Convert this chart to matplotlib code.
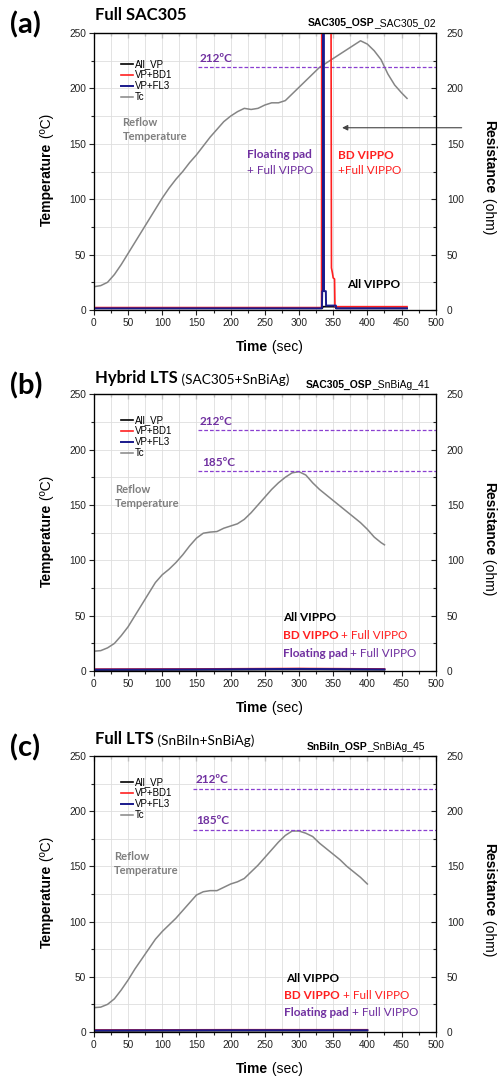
import matplotlib
matplotlib.use("Agg")
import matplotlib.pyplot as plt

# ---- data -------------------------------------------------------------
# (a) Full SAC305 : reflow temperature (left axis) and resistance (right axis)
a_t_tc = [0, 10, 20, 30, 40, 50, 60, 70, 80, 90, 100, 110, 120, 130, 140, 150, 160,
          170, 180, 190, 200, 210, 220, 230, 240, 250, 260, 270, 280, 290, 300, 310,
          320, 330, 340, 350, 360, 370, 380, 390, 400, 410, 420, 430, 440, 450, 458]
a_tc = [21, 22, 25, 32, 41, 51, 61, 71, 81, 91, 101, 110, 118, 125, 133, 140, 148,
        156, 163, 170, 175, 179, 182, 181, 182, 185, 187, 187, 189, 195, 201, 207,
        213, 219, 223, 227, 231, 235, 239, 243, 240, 234, 226, 213, 203, 196, 191]
a_t_all = [0, 334, 335, 353, 354, 458]
a_all = [1.5, 1.5, 3, 3, 1.5, 1.5]
a_t_bd1 = [0, 333, 333.4, 346.5, 347.5, 349, 350, 352, 352.6, 458]
a_bd1 = [2.2, 2.2, 400, 400, 38, 33, 29, 28, 3, 3]
a_t_fl3 = [0, 333.5, 334, 335, 335.3, 336.3, 336.6, 339.3, 339.6, 354, 354.4, 458]
a_fl3 = [1.5, 1.5, 17, 17, 400, 400, 17, 17, 4, 4, 1.5, 1.5]

# (b) Hybrid LTS
b_t_tc = [0, 10, 20, 30, 40, 50, 60, 70, 80, 90, 100, 110, 120, 130, 140, 150, 160,
          170, 180, 190, 200, 210, 220, 230, 240, 250, 260, 270, 280, 290, 300, 310,
          320, 330, 340, 350, 360, 370, 380, 390, 400, 410, 420, 425]
b_tc = [18, 18.5, 21, 25, 32, 40, 50, 60, 70, 80, 87, 92, 98, 105, 113, 120, 124.5,
        125.5, 126, 129, 131, 133, 137, 143, 150, 157, 164, 170, 175, 179, 180, 177,
        170, 164, 159, 154, 149, 144, 139, 134, 128, 121, 116, 114]
b_t_res = [0, 150, 300, 425]
b_all = [1.0, 1.2, 1.5, 1.3]
b_bd1 = [1.8, 2.0, 2.4, 2.0]
b_fl3 = [1.4, 1.6, 2.0, 1.6]

# (c) Full LTS
c_t_tc = [0, 10, 20, 30, 40, 50, 60, 70, 80, 90, 100, 110, 120, 130, 140, 150, 160,
          170, 180, 190, 200, 210, 220, 230, 240, 250, 260, 270, 280, 290, 300, 310,
          320, 330, 340, 350, 360, 370, 380, 390, 400]
c_tc = [22, 22.5, 25, 30, 38, 47, 57, 66, 75, 84, 91, 97, 103, 110, 117, 124, 127,
        128, 128, 131, 134, 136, 139, 145, 151, 158, 165, 172, 178, 182, 182, 180,
        177, 171, 166, 161, 156, 150, 145, 140, 134]
c_t_res = [0, 200, 400]
c_all = [1.0, 1.2, 1.2]
c_bd1 = [1.8, 2.0, 2.0]
c_fl3 = [1.4, 1.6, 1.6]

series_labels = ["All_VP", "VP+BD1", "VP+FL3", "Tc"]
# melting levels: (label, line level, label x, label y, line start)
a_levels = [("212ºC", 219, 155, 227, 153)]
b_levels = [("212ºC", 217.7, 155, 225, 153), ("185ºC", 180.2, 159, 188, 153)]
c_levels = [("212ºC", 220.5, 148, 229, 145), ("185ºC", 183, 150, 191.5, 145)]

# ---- style ------------------------------------------------------------
ARIAL = "Liberation Sans"
CALIBRI = "Lato"
PURPLE = "#7030A0"
RED = "#FF2020"
NAVY = "#1A1A8C"
GREY = "#858585"

fig = plt.figure(figsize=(5.02, 10.79), dpi=100)


def two_part(ax, x, y, bold, normal, size, family=ARIAL, color="black",
             size2=None, mode="left", coords=None):
    """bold text followed by normal-weight text"""
    size2 = size2 or size
    tr = coords if coords is not None else ax.transAxes
    if mode == "left":
        t1 = ax.text(x, y, bold, fontsize=size, fontweight="bold", family=family,
                     color=color, ha="left", va="center", transform=tr)
        ax.annotate(normal, xy=(1, 0), xycoords=t1, ha="left", va="bottom",
                    fontsize=size2, family=family, color=color)
    elif mode == "center":
        t1 = ax.text(x, y, bold, fontsize=size, fontweight="bold", family=family,
                     color=color, ha="right", va="center", transform=tr)
        ax.annotate(normal, xy=(1, 0), xycoords=t1, ha="left", va="bottom",
                    fontsize=size2, family=family, color=color)
    elif mode == "right":
        t2 = ax.text(x, y, normal, fontsize=size2, family=family, color=color,
                     ha="right", va="center", transform=tr)
        ax.annotate(bold, xy=(0, 0), xycoords=t2, ha="right", va="bottom",
                    fontsize=size, fontweight="bold", family=family, color=color)
    elif mode == "up":
        t1 = ax.text(x, y, bold, fontsize=size, fontweight="bold", family=family,
                     color=color, ha="center", va="top", rotation=90, transform=tr)
        ax.annotate(normal, xy=(0.5, 1), xycoords=t1, ha="center", va="bottom",
                    rotation=90, fontsize=size2, family=family, color=color)
    elif mode == "down":
        t1 = ax.text(x, y, bold, fontsize=size, fontweight="bold", family=family,
                     color=color, ha="center", va="bottom", rotation=270, transform=tr)
        ax.annotate(normal, xy=(0.5, 0), xycoords=t1, ha="center", va="top",
                    rotation=270, fontsize=size2, family=family, color=color)


def panel(rect, t_tc, tc, t_all, r_all, t_bd1, r_bd1, t_fl3, r_fl3, levels,
          letter, title, subtitle, tag_bold, tag_normal, reflow_xy, notes, leg_y):
    ax = fig.add_axes(rect)
    ax.set_xlim(0, 500)
    ax.set_ylim(0, 250)
    ax.set_xticks(range(0, 501, 50))
    ax.set_xticks(range(0, 501, 25), minor=True)
    ax.set_yticks(range(0, 251, 50))
    ax.set_yticks(range(0, 251, 25), minor=True)
    ax.grid(which="both", color="#dedede", lw=0.6)
    ax.set_axisbelow(True)
    ax.tick_params(which="both", direction="out", width=0.8, colors="#222222",
                   labelsize=7.3, pad=2)
    ax.tick_params(which="major", length=3.5)
    ax.tick_params(which="minor", length=2)
    for lab in ax.get_xticklabels() + ax.get_yticklabels():
        lab.set_family(ARIAL)
    for s in ax.spines.values():
        s.set_linewidth(0.9)
        s.set_color("#222222")

    top = ax.secondary_xaxis("top")
    top.set_xticks(range(0, 501, 50))
    top.set_xticks(range(0, 501, 25), minor=True)
    top.tick_params(which="both", direction="in", labeltop=False, width=0.8,
                    colors="#222222")
    top.tick_params(which="major", length=3.5)
    top.tick_params(which="minor", length=2)

    ax2 = ax.twinx()
    ax2.set_ylim(0, 250)
    ax2.set_yticks(range(0, 251, 50))
    ax2.set_yticks(range(0, 251, 25), minor=True)
    ax2.tick_params(which="both", direction="in", width=0.8, colors="#222222",
                    labelsize=7.3, pad=8)
    ax2.tick_params(which="major", length=3.5)
    ax2.tick_params(which="minor", length=2)
    for lab in ax2.get_yticklabels():
        lab.set_family(ARIAL)

    l_tc, = ax.plot(t_tc, tc, color=GREY, lw=1.1)
    for name, lvl, lx, ly, x0 in levels:
        ax.plot([x0, 500], [lvl, lvl], color="#8A3FD0", lw=0.9, ls=(0, (3, 1.6)))
        ax.text(lx, ly, name, color=PURPLE, fontsize=8.5, fontweight="bold",
                family=CALIBRI, ha="left", va="center")

    l_all, = ax2.plot(t_all, r_all, color="black", lw=1.2)
    l_bd1, = ax2.plot(t_bd1, r_bd1, color=RED, lw=1.2)
    l_fl3, = ax2.plot(t_fl3, r_fl3, color=NAVY, lw=1.4)

    ax2.legend([l_all, l_bd1, l_fl3, l_tc], series_labels, loc="upper left",
               bbox_to_anchor=(0.079, leg_y), frameon=False,
               prop={"family": ARIAL, "size": 7}, handlelength=1.25,
               handletextpad=0.15, labelspacing=0.1, borderpad=0,
               borderaxespad=0)

    ax.text(reflow_xy[0], reflow_xy[1], "Reflow\nTemperature", color="#7F7F7F",
            fontsize=8, fontweight="bold", family=CALIBRI, ha="left", va="top",
            linespacing=1.35)

    for kind, x, y, b, n, col in notes:
        if kind == "single":
            ax.text(x, y, b, color=col, fontsize=8.5, fontweight="bold",
                    family=CALIBRI, ha="left", va="center")
        elif kind == "line":
            ax.text(x, y, n, color=col, fontsize=8.5, family=CALIBRI,
                    ha="left", va="center")
        else:
            two_part(ax, x, y, b, n, 8.5, family=CALIBRI, color=col,
                     coords=ax.transData)

    ax.text(-0.245, 1.03, letter, transform=ax.transAxes, fontsize=21,
            fontweight="bold", family=CALIBRI, ha="left", va="center")
    if subtitle:
        two_part(ax, 0.004, 1.06, title, subtitle, 12, family=CALIBRI, size2=9.8)
    else:
        ax.text(0.004, 1.065, title, transform=ax.transAxes, fontsize=12,
                fontweight="bold", family=CALIBRI, ha="left", va="center")
    two_part(ax, tag_bold[1], tag_bold[2], tag_bold[0], tag_normal, 7.5,
             mode="right")

    two_part(ax, 0.509, -0.133, "Time", " (sec)", 10, mode="center")
    two_part(ax, -0.138, 0.605, "Temperature", " (ºC)", 10, mode="up")
    two_part(ax, 1.155, 0.42, "Resistance", " (ohm)", 10, mode="down")
    return ax, ax2


ax_a, ax_a2 = panel([0.187, 0.7127, 0.681, 0.2567], a_t_tc, a_tc, a_t_all, a_all,
                    a_t_bd1, a_bd1, a_t_fl3, a_fl3, a_levels, "(a)", "Full SAC305",
                    None, ("SAC305_OSP", 1.0, 1.036), "_SAC305_02", (42, 174),
                    [("single", 223.7, 140.8, "Floating pad", "", PURPLE),
                     ("line", 223.7, 126, "", "+ Full VIPPO", PURPLE),
                     ("single", 356.7, 139, "BD VIPPO", "", RED),
                     ("line", 356.7, 125.5, "", "+Full VIPPO", RED),
                     ("single", 371, 22.6, "All VIPPO", "", "black")], 0.905)
ax_a.annotate("", xy=(359, 164.5), xytext=(542, 164.5), annotation_clip=False,
              arrowprops=dict(arrowstyle="-|>", color="#444444", lw=0.8,
                              mutation_scale=8))

panel([0.187, 0.378, 0.681, 0.2567], b_t_tc, b_tc, b_t_res, b_all, b_t_res, b_bd1,
      b_t_res, b_fl3, b_levels, "(b)", "Hybrid LTS", " (SAC305+SnBiAg)",
      ("SAC305_OSP", 0.982, 1.032), "_SnBiAg_41", (30.7, 169),
      [("single", 276, 48, "All VIPPO", "", "black"),
       ("two", 276, 32.5, "BD VIPPO", " + Full VIPPO", RED),
       ("two", 276, 16, "Floating pad", " + Full VIPPO", PURPLE)], 0.923)

panel([0.187, 0.0436, 0.681, 0.2558], c_t_tc, c_tc, c_t_res, c_all, c_t_res, c_bd1,
      c_t_res, c_fl3, c_levels, "(c)", "Full LTS", " (SnBiIn+SnBiAg)",
      ("SnBiIn_OSP", 0.968, 1.034), "_SnBiAg_45", (29, 164),
      [("single", 280.7, 48.6, "All VIPPO", "", "black"),
       ("two", 277.8, 33, "BD VIPPO", " + Full VIPPO", RED),
       ("two", 277.8, 17.5, "Floating pad", " + Full VIPPO", PURPLE)], 0.923)

fig.savefig("out.png", dpi=100)
